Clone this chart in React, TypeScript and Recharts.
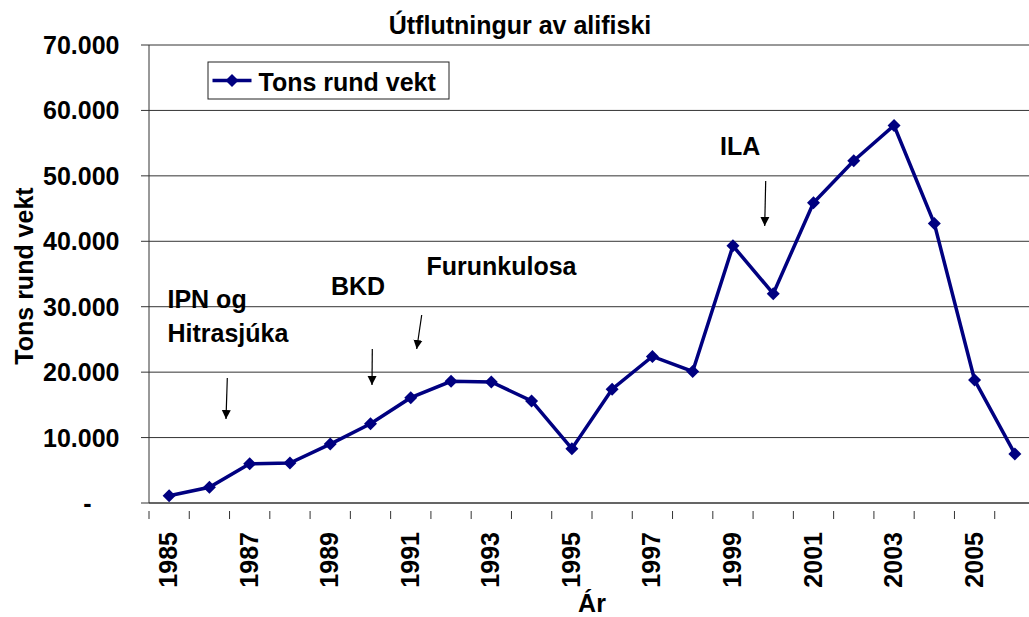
import React from "react";
import {
  CartesianGrid,
  Customized,
  Line,
  LineChart,
  XAxis,
  YAxis,
} from "recharts";

const years = [
  1985, 1986, 1987, 1988, 1989, 1990, 1991, 1992, 1993, 1994, 1995, 1996,
  1997, 1998, 1999, 2000, 2001, 2002, 2003, 2004, 2005, 2006,
];
const tons = [
  1100, 2400, 6000, 6100, 9000, 12100, 16100, 18600, 18500, 15600, 8300,
  17400, 22400, 20100, 39300, 32000, 45900, 52300, 57700, 42700, 18800, 7500,
];
const yTicks = [0, 10000, 20000, 30000, 40000, 50000, 60000, 70000];

const data = years.map((y, i) => ({ year: String(y), tons: tons[i] }));

const NAVY = "#000080";
const INK = "#000";
const GRID = "#333";
const FONT = "'Liberation Sans', Arial, sans-serif";

const CHART_W = 1035;
const CHART_H = 617;
const Y_AXIS_W = 149;
const X_AXIS_H = 114;
const TOP = 45;
const BAND = (CHART_W - Y_AXIS_W) / years.length;

function fmt(v: number) {
  if (v === 0) return "-";
  return v.toLocaleString("de-DE");
}

function YTick(props: any) {
  const { x, y, payload } = props;
  const v = payload.value as number;
  return (
    <text
      x={v === 0 ? x - 28 : x}
      y={y + 9}
      textAnchor="end"
      fontSize={25}
      fontWeight="bold"
      fill={INK}
    >
      {fmt(v)}
    </text>
  );
}

function XTick(props: any) {
  const { x, y, index } = props;
  const left = x - BAND / 2;
  return (
    <g>
      <line x1={left} y1={y} x2={left} y2={y + 8} stroke={GRID} />
      {index === years.length - 1 && (
        <line x1={x + BAND / 2} y1={y} x2={x + BAND / 2} y2={y + 8} stroke={GRID} />
      )}
      {index % 2 === 0 && (
        <text
          x={x + 8}
          y={y + 21}
          transform={`rotate(-90, ${x + 8}, ${y + 21})`}
          textAnchor="end"
          fontSize={25}
          fontWeight="bold"
          fill={INK}
        >
          {years[index]}
        </text>
      )}
    </g>
  );
}

function Diamond(props: any) {
  const { cx, cy } = props;
  if (cx == null || cy == null) return null;
  const r = 6.5;
  return (
    <polygon
      points={`${cx},${cy - r} ${cx + r},${cy} ${cx},${cy + r} ${cx - r},${cy}`}
      fill={NAVY}
    />
  );
}

// legend box drawn in svg so it doesn't push the plot area down
function LegendBox() {
  return (
    <g transform="translate(207.5, 61.5)">
      <rect x={0.5} y={0.5} width={241} height={37} fill="#fff" stroke="#222" />
      <line x1={5} y1={19} x2={44} y2={19} stroke={NAVY} strokeWidth={3.5} />
      <polygon points="24.5,12.5 31,19 24.5,25.5 18,19" fill={NAVY} />
      <text x={51} y={29.5} fontSize={25} fontWeight="bold" fill={INK}>
        Tons rund vekt
      </text>
    </g>
  );
}

const notes = [
  { text: "IPN og", x: 167.5, y: 308 },
  { text: "Hitrasjúka", x: 167.5, y: 342 },
  { text: "BKD", x: 331, y: 295 },
  { text: "Furunkulosa", x: 426.5, y: 275 },
  { text: "ILA", x: 720, y: 155 },
];
const arrows = [
  [227.3, 378, 226, 419],
  [372.3, 349, 372, 385],
  [421.7, 315, 416.7, 349],
  [765.7, 181, 764.7, 226],
];

function Annotations() {
  return (
    <g fontFamily={FONT}>
      <defs>
        <marker
          id="arrowHead"
          viewBox="0 0 10 10"
          refX={10}
          refY={5}
          markerUnits="userSpaceOnUse"
          markerWidth={9}
          markerHeight={10}
          orient="auto"
        >
          <path d="M0,0 L10,5 L0,10 z" fill={INK} />
        </marker>
      </defs>
      <text
        x={520}
        y={34.3}
        textAnchor="middle"
        fontSize={25}
        fontWeight="bold"
        fill={INK}
      >
        Útflutningur av alifiski
      </text>
      <text
        x={33}
        y={276}
        transform="rotate(-90, 33, 276)"
        textAnchor="middle"
        fontSize={25}
        fontWeight="bold"
        fill={INK}
      >
        Tons rund vekt
      </text>
      <text
        x={592}
        y={612}
        textAnchor="middle"
        fontSize={25}
        fontWeight="bold"
        fill={INK}
      >
        Ár
      </text>
      {notes.map((n) => (
        <text
          key={n.text}
          x={n.x}
          y={n.y}
          fontSize={25}
          fontWeight="bold"
          fill={INK}
        >
          {n.text}
        </text>
      ))}
      {arrows.map(([x1, y1, x2, y2], i) => (
        <line
          key={i}
          x1={x1}
          y1={y1}
          x2={x2}
          y2={y2}
          stroke={INK}
          strokeWidth={1.2}
          markerEnd="url(#arrowHead)"
        />
      ))}
      <LegendBox />
    </g>
  );
}

export default function App() {
  return (
    <div style={{ width: 1029, height: 617, overflow: "hidden", background: "#fff" }}>
      <style>{`body{margin:0;background:#fff}`}</style>
      <LineChart
        width={CHART_W}
        height={CHART_H}
        data={data}
        margin={{ top: TOP, right: 0, bottom: 0, left: 0 }}
        style={{ fontFamily: FONT }}
      >
        <CartesianGrid vertical={false} stroke={GRID} />
        <XAxis
          dataKey="year"
          scale="band"
          interval={0}
          height={X_AXIS_H}
          tickLine={false}
          axisLine={{ stroke: GRID }}
          tick={<XTick />}
        />
        <YAxis
          domain={[0, 70000]}
          ticks={yTicks}
          width={Y_AXIS_W}
          tickSize={8}
          tickMargin={21.5}
          tickLine={{ stroke: GRID }}
          axisLine={{ stroke: GRID }}
          tick={<YTick />}
        />
        <Line
          type="linear"
          dataKey="tons"
          name="Tons rund vekt"
          stroke={NAVY}
          strokeWidth={3.5}
          dot={<Diamond />}
          activeDot={false}
          isAnimationActive={false}
        />
        <Customized component={Annotations} />
      </LineChart>
    </div>
  );
}
